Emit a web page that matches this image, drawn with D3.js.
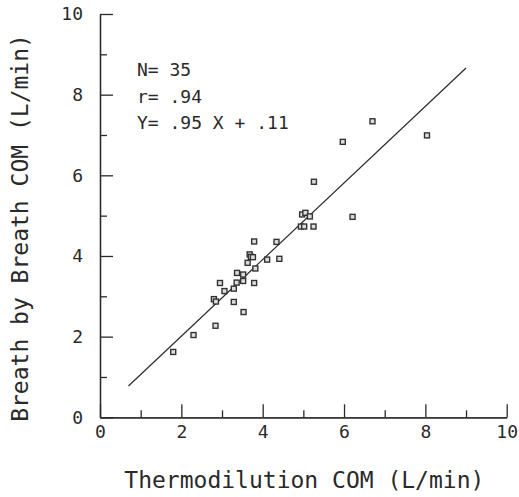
<!DOCTYPE html>
<html>
<head>
<meta charset="utf-8">
<script src="https://cdn.jsdelivr.net/npm/d3@7"></script>
<style>
  body { margin: 0; background: #fff; }
  text { font-family: "DejaVu Sans Mono", monospace; fill: #2a2a2a; }
</style>
</head>
<body>
<div id="chart"></div>
<script>
// scatter - breath by breath vs thermodilution COM

// data
var thermoX = [2.30, 2.84, 2.80, 2.85, 3.06, 2.95, 3.29, 3.53, 3.29, 3.37,
               3.52, 3.52, 3.63, 3.68, 3.71, 3.76, 3.82, 3.79, 3.79, 4.11,
               4.34, 4.41, 4.94, 5.02, 5.25, 4.97, 5.05, 5.16, 5.26, 6.21,
               5.97, 6.70, 8.04, 3.36, 1.80];
var breathY = [2.04, 2.27, 2.93, 2.87, 3.13, 3.33, 2.86, 2.61, 3.19, 3.58,
               3.54, 3.38, 3.83, 4.04, 3.98, 3.97, 3.69, 3.33, 4.36, 3.91,
               4.35, 3.93, 4.73, 4.73, 4.73, 5.03, 5.07, 4.98, 5.84, 4.97,
               6.83, 7.34, 6.99, 3.34, 1.62];
var fitSlope = 0.95;
var fitIntercept = 0.11;
var fitRange = [0.7, 9];
var statLines = ["N= 35", "r= .94", "Y= .95 X + .11"];
var majorTicks = [0, 2, 4, 6, 8, 10];
var minorTicks = [1, 3, 5, 7, 9];

// layout
var w = 519;
var h = 497;
var x0 = 100, x1 = 506.7;
var y0 = 417.3, y1 = 14;
var ink = '#2a2a2a';

var xScale = d3.scaleLinear().domain([0, 10]).range([x0, x1]);
var yScale = d3.scaleLinear().domain([0, 10]).range([y0, y1]);

var svg = d3.select("#chart")
    .append("svg")
    .attr('width', w)
    .attr('height', h);

// axes (ticks point inward, labels outside)
var gx = svg.append('g')
    .attr('transform', 'translate(0,' + y0 + ')')
    .call(d3.axisBottom(xScale).tickValues(majorTicks).tickSizeInner(-13)
        .tickSizeOuter(0).tickPadding(8).tickFormat(d3.format('d')));
svg.append('g')
    .attr('transform', 'translate(0,' + y0 + ')')
    .call(d3.axisBottom(xScale).tickValues(minorTicks).tickSizeInner(-7)
        .tickSizeOuter(0).tickFormat(''));

var gy = svg.append('g')
    .attr('transform', 'translate(' + x0 + ',0)')
    .call(d3.axisLeft(yScale).tickValues(majorTicks).tickSizeInner(-13)
        .tickSizeOuter(0).tickPadding(17).tickFormat(d3.format('d')));
svg.append('g')
    .attr('transform', 'translate(' + x0 + ',0)')
    .call(d3.axisLeft(yScale).tickValues(minorTicks).tickSizeInner(-7)
        .tickSizeOuter(0).tickFormat(''));

svg.selectAll('.domain, .tick line')
    .attr('stroke', ink)
    .attr('stroke-width', 1.3);
svg.selectAll('.tick text')
    .style('font-size', '18px')
    .attr('fill', ink);

// regression line
svg.append('line')
    .attr('x1', xScale(fitRange[0]))
    .attr('y1', yScale(fitSlope * fitRange[0] + fitIntercept))
    .attr('x2', xScale(fitRange[1]))
    .attr('y2', yScale(fitSlope * fitRange[1] + fitIntercept))
    .attr('stroke', ink)
    .attr('stroke-width', 1.2);

// points
var pts = thermoX.map(function(d, i) { return [d, breathY[i]]; });
svg.selectAll('rect.pt')
    .data(pts)
    .enter()
    .append('rect')
    .attr('class', 'pt')
    .attr('x', function(d) { return xScale(d[0]) - 2.5; })
    .attr('y', function(d) { return yScale(d[1]) - 2.5; })
    .attr('width', 5)
    .attr('height', 5)
    .attr('fill', '#ddd')
    .attr('stroke', '#333')
    .attr('stroke-width', 1.4);

// stats text
svg.selectAll('text.stat')
    .data(statLines)
    .enter()
    .append('text')
    .attr('class', 'stat')
    .attr('x', 137)
    .attr('y', function(d, i) { return 76 + i * 26.5; })
    .style('font-size', '18px')
    .text(function(d) { return d; });

// axis titles
svg.append('text')
    .attr('x', (x0 + x1) / 2 + 1)
    .attr('y', 488)
    .attr('text-anchor', 'middle')
    .style('font-size', '23px')
    .text('Thermodilution COM (L/min)');

svg.append('text')
    .attr('transform', 'translate(28,' + 228 + ') rotate(-90)')
    .attr('text-anchor', 'middle')
    .style('font-size', '23px')
    .text('Breath by Breath COM (L/min)');
</script>
</body>
</html>
